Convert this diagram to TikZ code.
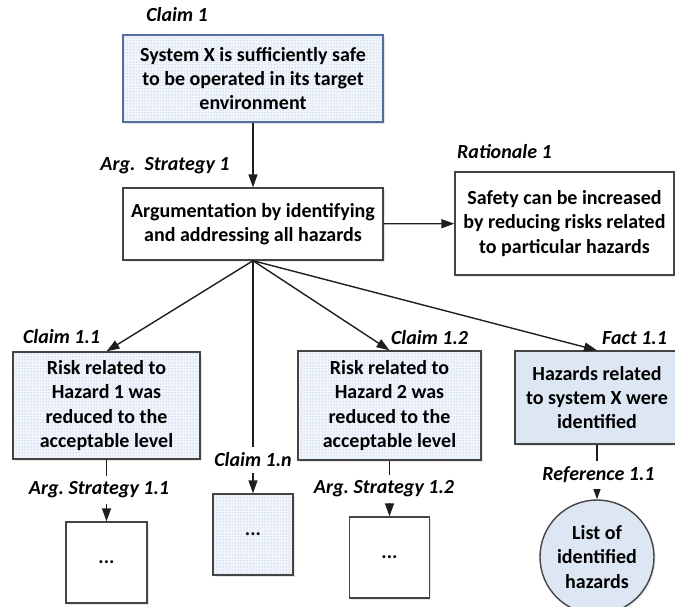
\documentclass[tikz,border=0pt]{standalone}
\usepackage{fontspec}
\setmainfont{Carlito}
\usetikzlibrary{arrows.meta,patterns,shadows}
\definecolor{dotblue}{RGB}{160,186,226}
\definecolor{claimbg}{RGB}{242,246,252}
\definecolor{factbg}{RGB}{221,230,243}
\definecolor{claimrim}{RGB}{82,110,158}
\definecolor{boxrim}{RGB}{68,68,68}
\definecolor{linkcol}{RGB}{30,30,30}
\pgfdeclarepatternformonly{claimdots}{\pgfpointorigin}{\pgfpoint{3pt}{3pt}}{\pgfpoint{3pt}{3pt}}{%
  \pgfpathcircle{\pgfpoint{1.5pt}{1.5pt}}{0.75pt}\pgfusepath{fill}}
\tikzset{
  box/.style = {draw=boxrim, line width=1.4pt, align=center, inner sep=0pt,
                font=\fontsize{20}{24.4}\selectfont\bfseries,
                drop shadow={shadow xshift=1.5pt, shadow yshift=-1.5pt, opacity=0.2}},
  claim/.style = {box, preaction={fill=claimbg}, pattern=claimdots, pattern color=dotblue},
  strategy/.style = {box, fill=white},
  fact/.style = {box, fill=factbg},
  evidence/.style = {box, circle, fill=factbg},
  tag/.style = {fill=white, inner xsep=1pt, inner ysep=1pt,
                font=\fontsize{20}{24.4}\selectfont\bfseries\itshape},
  link/.style = {draw=linkcol, line width=1.4pt, -{Triangle[length=13pt,width=9pt]}}
}

\begin{document}
\begin{tikzpicture}[x=1pt, y=-1pt]
	\useasboundingbox (0,0) rectangle (675,606);

	% Top level
	\node[claim, draw=claimrim, minimum width=260pt, minimum height=87pt] (c1) at (253,78.5)
		{System X is sufficiently safe\\to be operated in its target\\environment};
	\node[strategy, minimum width=260pt, minimum height=72pt] (s1) at (253,224)
		{Argumentation by identifying\\and addressing all hazards};
	\node[strategy, minimum width=219pt, minimum height=103pt] (r1) at (564.5,223.5)
		{Safety can be increased\\by reducing risks related\\to particular hazards};

	% Sub-claims
	\node[claim, minimum width=187pt, minimum height=107pt] (c11) at (106.5,405.5)
		{Risk related to\\Hazard 1 was\\reduced to the\\acceptable level};
	\node[claim, minimum width=183pt, minimum height=109pt] (c12) at (389.5,405.5)
		{Risk related to\\Hazard 2 was\\reduced to the\\acceptable level};
	\node[fact, minimum width=164pt, minimum height=93pt] (f11) at (597,397.5)
		{Hazards related\\to system X were\\identified};

	% Bottom row
	\node[strategy, minimum width=81pt, minimum height=81pt] (s11) at (106.5,562.5) {...};
	\node[claim, minimum width=80pt, minimum height=81pt] (c1n) at (253,534.5) {...};
	\node[strategy, minimum width=80pt, minimum height=81pt] (s12) at (389.5,557.5) {...};
	\node[evidence, minimum size=114pt] (ref11) at (597,557)
		{List of\\identified\\hazards};

	% Links
	\draw[link] (c1) -- (s1);
	\draw[link] (s1) -- (r1);
	\draw[link] (s1.south) -- (c11.north);
	\draw[link] (s1.south) -- (c1n.north);
	\draw[link] (s1.south) -- (c12.north);
	\draw[link] (s1.south) -- (f11.north);
	\draw[link] (c11) -- (s11);
	\draw[link] (c12) -- (s12);
	\draw[link] (f11) -- (ref11);

	% Tags
	\node[tag] (c1tag) at (177,15) {Claim 1};
	\node[tag] (s1tag) at (165,166) {Arg.\ \ Strategy 1};
	\node[tag] (r1tag) at (504.5,152) {Rationale 1};
	\node[tag] (c11tag) at (61.5,337) {Claim 1.1};
	\node[tag] (c12tag) at (429.5,338) {Claim 1.2};
	\node[tag] (f11tag) at (634.5,338) {Fact 1.1};
	\node[tag, inner ysep=6pt] (c1ntag) at (253,460) {Claim 1.n};
	\node[tag, inner ysep=6pt] (s11tag) at (99,490) {Arg.\ Strategy 1.1};
	\node[tag, inner ysep=6pt] (s12tag) at (384,489) {Arg.\ Strategy 1.2};
	\node[tag, inner ysep=6pt] (ref11tag) at (598.5,475) {Reference 1.1};
\end{tikzpicture}
\end{document}
